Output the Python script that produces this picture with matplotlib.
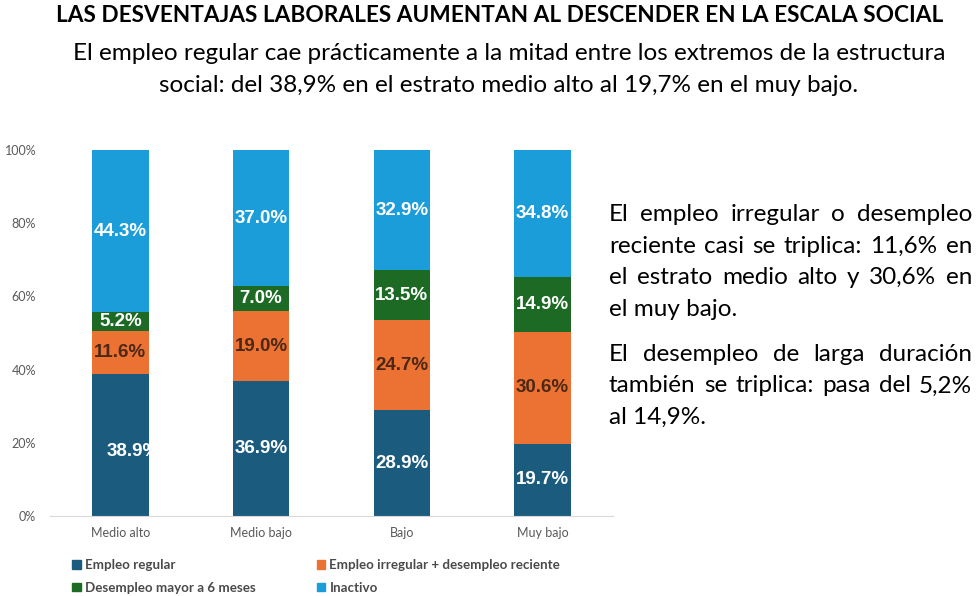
import numpy as np
import matplotlib.pyplot as plt
from matplotlib.patches import Patch

categorias = ['Medio alto', 'Medio bajo', 'Bajo', 'Muy bajo']
series = ['Empleo regular', 'Empleo irregular + desempleo reciente',
          'Desempleo mayor a 6 meses', 'Inactivo']
empleo_regular = [38.9, 36.9, 28.9, 19.7]
empleo_irregular = [11.6, 19.0, 24.7, 30.6]
desempleo_largo = [5.2, 7.0, 13.5, 14.9]
inactivo = [44.3, 37.0, 32.9, 34.8]

titulo = 'LAS DESVENTAJAS LABORALES AUMENTAN AL DESCENDER EN LA ESCALA SOCIAL'
subtitulo = ['El empleo regular cae prácticamente a la mitad entre los extremos de la estructura',
             'social: del 38,9% en el estrato medio alto al 19,7% en el muy bajo.']
parrafo1 = ['El empleo irregular o desempleo',
            'reciente casi se triplica: 11,6% en',
            'el estrato medio alto y 30,6% en',
            'el muy bajo.']
parrafo2 = ['El desempleo de larga duración',
            'también se triplica: pasa del 5,2%',
            'al 14,9%.']

colores = ['#1b5b7e', '#eb7233', '#1d6a25', '#1b9dd9']
color_lbl = ['white', '#4d2814', 'white', 'white']

calibri = ['Lato', 'DejaVu Sans']
arial = ['Liberation Sans', 'DejaVu Sans']

W, H = 979, 596
fig = plt.figure(figsize=(W / 100, H / 100), dpi=100)
ax = fig.add_axes([50 / W, 1 - 516 / H, (613 - 50) / W, (516 - 150) / H])

x = np.arange(len(categorias))
datos = [empleo_regular, empleo_irregular, desempleo_largo, inactivo]
base = np.zeros(len(categorias))
for k, vals in enumerate(datos):
    vals = np.array(vals)
    bars = ax.bar(x, vals, 0.4, bottom=base, color=colores[k], label=series[k])
    for i, b in enumerate(bars):
        primero = (k == 0 and i == 0)
        dx = 0.09 if primero else 0
        dy = -1.8 if primero else 0
        t = ax.text(x[i] + dx, base[i] + vals[i] / 2 + dy, f'{vals[i]:.1f}%',
                    ha='center', va='center', color=color_lbl[k],
                    fontsize=13.5, fontweight='bold', family=arial)
        if primero:
            t.set_clip_path(b)
    base = base + vals

ax.set_xlim(-0.5, 3.5)
ax.set_ylim(0, 100)
ax.set_yticks([0, 20, 40, 60, 80, 100])
ax.set_yticklabels([f'{v}%' for v in [0, 20, 40, 60, 80, 100]])
ax.set_xticks(x)
ax.set_xticklabels(categorias)
for s in ['top', 'right', 'left']:
    ax.spines[s].set_visible(False)
ax.spines['bottom'].set_color('#d9d9d9')
ax.tick_params(axis='both', length=0, colors='#595959', labelsize=9)
ax.tick_params(axis='y', pad=10)
ax.tick_params(axis='x', pad=8)
for t in ax.get_xticklabels() + ax.get_yticklabels():
    t.set_family(calibri)

h = [Patch(color=colores[i]) for i in [0, 2, 1, 3]]
l = [series[i] for i in [0, 2, 1, 3]]
leg = fig.legend(h, l, ncol=2, loc='upper left', bbox_to_anchor=(60 / W, 1 - 547 / H),
                 frameon=False, handlelength=0.65, handleheight=0.65, handletextpad=0.3,
                 columnspacing=4.6, labelspacing=0.8,
                 prop={'family': calibri, 'size': 9.6, 'weight': 'bold'})
for t in leg.get_texts():
    t.set_color('#4a4a4a')

fig.text(500 / W, 1 - 16 / H, titulo, ha='center', va='center', fontsize=16.3,
         fontweight='bold', family=calibri, color='black')
for j, linea in enumerate(subtitulo):
    fig.text(509 / W, 1 - (53 + 33 * j) / H, linea, ha='center', va='center',
             fontsize=17.5, family=calibri, color='black')

renderer = fig.canvas.get_renderer()


def justificar(lineas, x0, x1, y0, dy, fs=17.5):
    for i, linea in enumerate(lineas):
        yy = 1 - (y0 + dy * i) / H
        palabras = linea.split()
        if i == len(lineas) - 1:
            fig.text(x0 / W, yy, linea, va='baseline', fontsize=fs, family=calibri)
            continue
        ts = [fig.text(0, yy, p, va='baseline', fontsize=fs, family=calibri) for p in palabras]
        anchos = [t.get_window_extent(renderer).width for t in ts]
        hueco = (x1 - x0 - sum(anchos)) / (len(palabras) - 1)
        xx = x0
        for t, a in zip(ts, anchos):
            t.set_x(xx / W)
            xx += a + hueco


justificar(parrafo1, 609, 972, 221, 31.5)
justificar(parrafo2, 609, 972, 361, 31.5)

fig.savefig('out.png', dpi=100)
